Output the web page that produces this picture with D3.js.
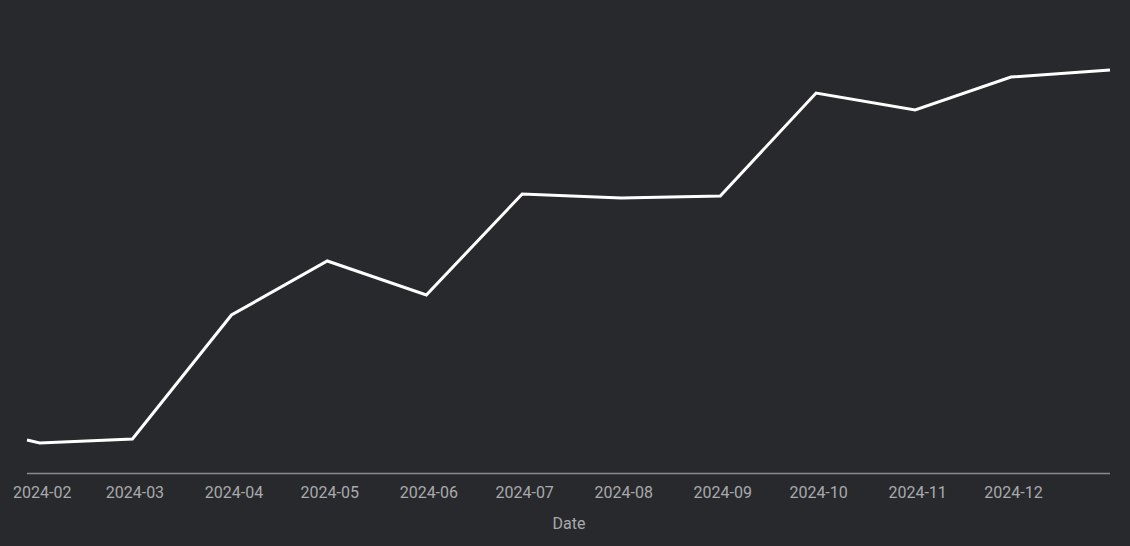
<!DOCTYPE html>
<html lang="en">
<head>
<meta charset="UTF-8">
<title>Chart</title>
<script src="https://cdnjs.cloudflare.com/ajax/libs/d3/7.8.5/d3.min.js"></script>
<style>
body { margin: 0; background: #28292c; }
text { font-family: Roboto, sans-serif; }
</style>
</head>
<body>
<svg id="chart" width="1130" height="546"></svg>
<script>
// readings (no y axis shown, so arbitrary units)
var dates = ["2024-01-28", "2024-02-01", "2024-03-01", "2024-04-01", "2024-05-01", "2024-06-01",
	"2024-07-01", "2024-08-01", "2024-09-01", "2024-10-01", "2024-11-01", "2024-12-01", "2025-01-01"];
var values = [33, 30, 34, 158, 212, 178, 279, 275, 277, 380, 363, 396, 403];
var tickMonths = ["2024-02-01", "2024-03-01", "2024-04-01", "2024-05-01", "2024-06-01", "2024-07-01",
	"2024-08-01", "2024-09-01", "2024-10-01", "2024-11-01", "2024-12-01"];

var parse = d3.utcParse("%Y-%m-%d");
var svg = d3.select("#chart");
var data = dates.map(function(d, i) { return {date: parse(d), value: values[i]}; });

var x = d3.scaleUtc().domain([parse(dates[0]), parse(dates[dates.length - 1])]).range([27, 1110]);
var y = d3.scaleLinear().domain([0, 473]).range([473, 0]);

svg.append("line")
	.attr("x1", 27).attr("x2", 1110).attr("y1", 473.5).attr("y2", 473.5)
	.attr("stroke", "#8a8b8e").attr("stroke-width", 1.5);

var axis = d3.axisBottom(x)
	.tickValues(tickMonths.map(parse))
	.tickFormat(d3.utcFormat("%Y-%m"))
	.tickSize(0).tickPadding(14);
var g = svg.append("g").attr("transform", "translate(0,473)").call(axis);
g.select(".domain").remove();
g.selectAll("text").attr("fill", "#a9aaad").style("font-size", "16px").attr("dx", 2);

svg.append("text").attr("x", 569).attr("y", 529).attr("text-anchor", "middle")
	.attr("fill", "#a9aaad").style("font-size", "16px").text("Date");

svg.append("path").datum(data)
	.attr("fill", "none").attr("stroke", "#ffffff").attr("stroke-width", 3)
	.attr("d", d3.line().x(function(d) { return x(d.date); }).y(function(d) { return y(d.value); }));
</script>
</body>
</html>
